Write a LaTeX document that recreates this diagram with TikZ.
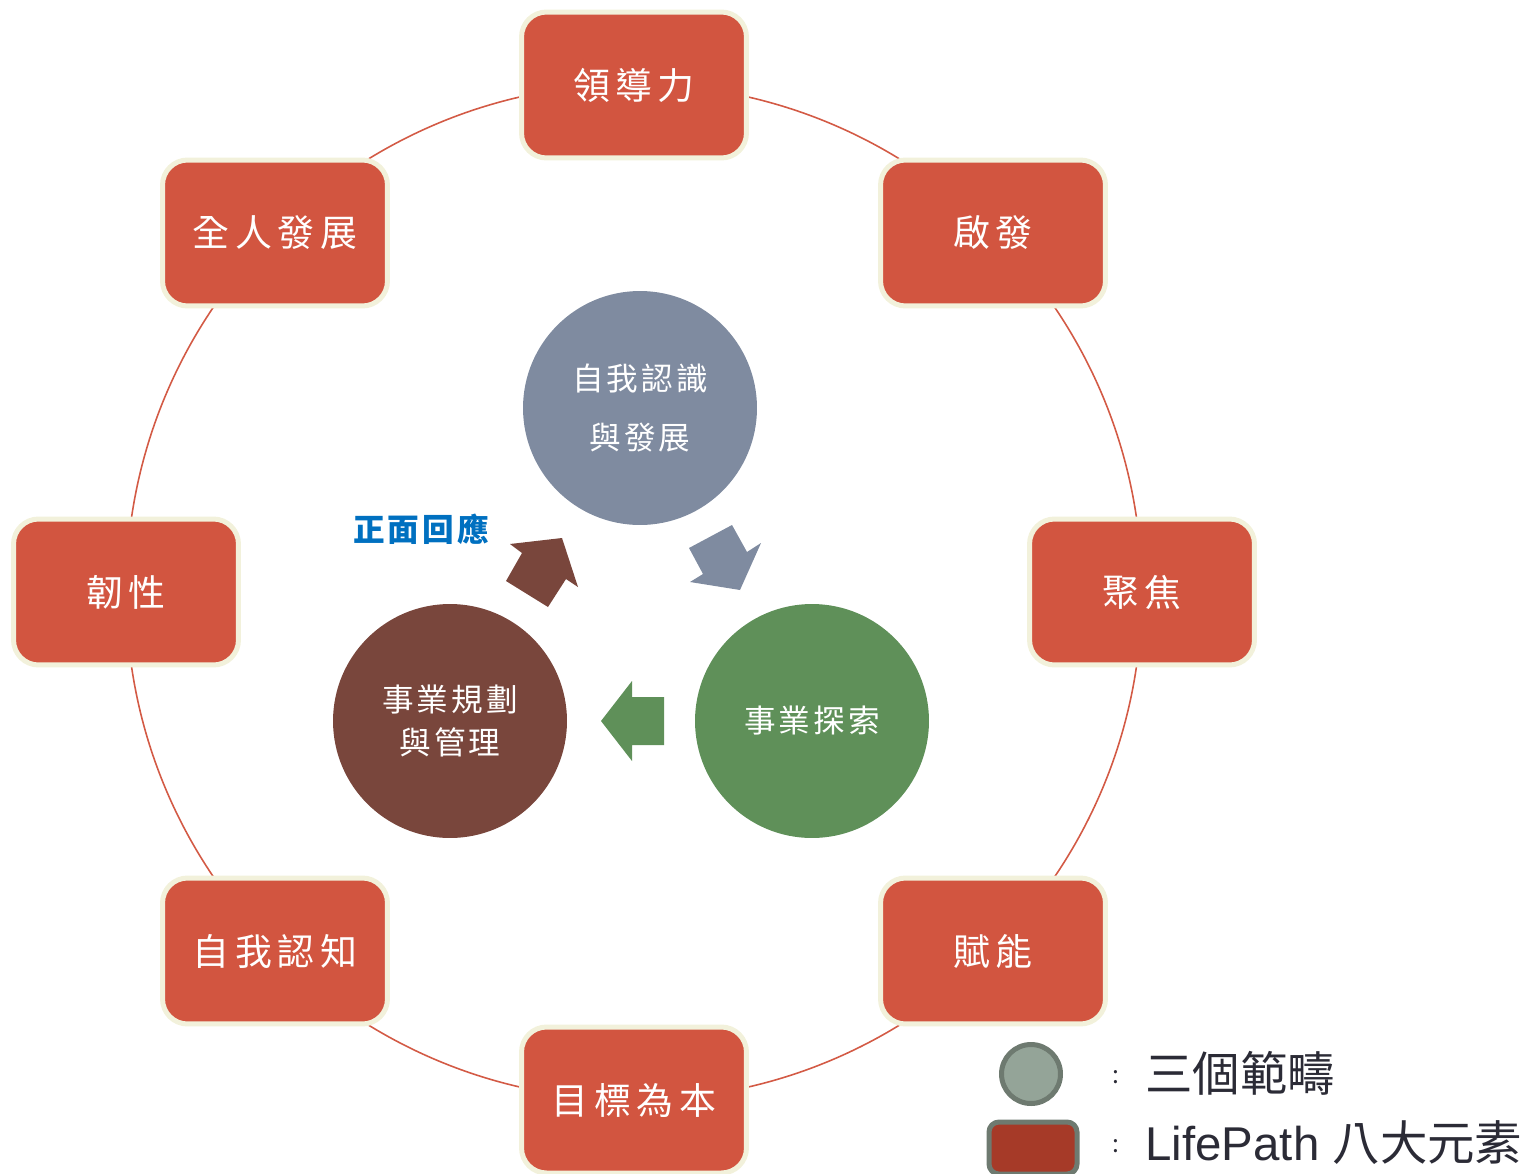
\documentclass[tikz,border=0pt]{standalone}
\usepackage{fontspec}
\setmainfont{Liberation Sans}
\newfontfamily\cjk{Noto Sans CJK TC}
\newfontfamily\kai[LetterSpace=15]{Noto Sans CJK TC}
\newfontfamily\kaic[LetterSpace=10]{Noto Sans CJK TC}

\definecolor{boxred}{HTML}{D25540}
\definecolor{boxrim}{HTML}{F2F1DB}
\definecolor{ringred}{HTML}{D35A45}
\definecolor{selfgray}{HTML}{7F8BA0}
\definecolor{explgreen}{HTML}{5F9059}
\definecolor{planbrown}{HTML}{79463C}
\definecolor{replyblue}{HTML}{0070C0}
\definecolor{keyfill}{HTML}{94A498}
\definecolor{keyrim}{HTML}{6E7A70}
\definecolor{keyred}{HTML}{A63A28}
\definecolor{keytext}{HTML}{2B2B36}

\begin{document}
\begin{tikzpicture}[x=0.02cm,y=-0.02cm,
	element/.style={draw=boxrim,line width=0.1cm,fill=boxred,rounded corners=0.5cm,minimum width=4.5cm,minimum height=2.92cm,text=white,font=\kai\fontsize{21}{25}\selectfont},
	realm/.style={circle,minimum size=4.68cm,inner sep=0pt,text=white,align=center},
	ring/.style={draw=ringred,line width=0.9pt},
	keytxt/.style={anchor=west,inner sep=0pt,text=keytext}]
		\useasboundingbox (0,0) rectangle (1531,1173);

		\coordinate (hub) at (634,592);
		\draw[ring] (hub) circle[radius=10.16cm];

		\node[element] at (634,85) (lead) {領導力};
		\node[element] at (993,233) (insp) {啟發};
		\node[element] at (1142,592) (focus) {聚焦};
		\node[element] at (993,951) (empow) {賦能};
		\node[element] at (634,1100) (purp) {目標為本};
		\node[element] at (275,951) (aware) {自我認知};
		\node[element] at (126,592) (resil) {韌性};
		\node[element] at (275,233) (whole) {全人發展};

		\node[realm,fill=selfgray,font=\kaic\fontsize{18}{34}\selectfont] at (640,408) (self) {自我認識\\與發展};
		\node[realm,fill=explgreen,font=\kaic\fontsize{18}{24}\selectfont] at (812,721) (explore) {事業探索};
		\node[realm,fill=planbrown,font=\kaic\fontsize{18}{24}\selectfont] at (450,721) (plan) {事業規劃\\與管理};

		\fill[selfgray] (689,548) -- (732,525) -- (747,552) -- (761,543) -- (740,590) -- (690,582) -- (703,574) -- cycle;
		\fill[explgreen] (601,721) -- (632,681) -- (632,697) -- (664,697) -- (664,745) -- (632,745) -- (632,761) -- cycle;
		\fill[planbrown] (510,544) -- (562,538) -- (578,587) -- (566,579) -- (548,607) -- (506,581) -- (522,553) -- cycle;

		\node[text=replyblue,font=\kaic\bfseries\fontsize{18}{22}\selectfont] at (421,529) (reply) {正面回應};

		% legend
		\node[circle,draw=keyrim,fill=keyfill,line width=0.1cm,minimum size=1.18cm,inner sep=0pt] at (1031,1074) (keyring) {};
		\node[draw=keyrim,fill=keyred,line width=0.1cm,rounded corners=0.2cm,minimum width=1.76cm,minimum height=1.04cm] at (1033,1148) (keybox) {};
		\node[keytxt,font=\cjk\fontsize{14}{16}\selectfont] at (1112,1077) (colon1) {:};
		\node[keytxt,font=\cjk\fontsize{14}{16}\selectfont] at (1112,1146) (colon2) {:};
		\node[keytxt,font=\cjk\fontsize{27}{32}\selectfont] at (1145,1073) (realmkey) {三個範疇};
		\node[keytxt,font=\fontsize{27}{32}\selectfont] at (1145,1143) (elemkey) {LifePath {\cjk 八大元素}};
	\end{tikzpicture}
\end{document}
